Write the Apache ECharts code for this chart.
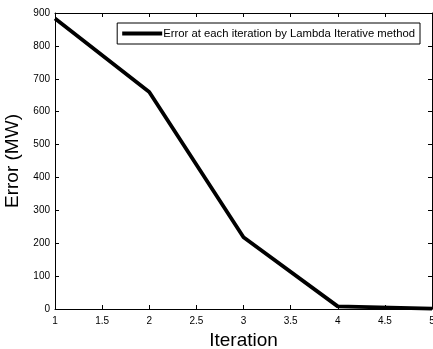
<!DOCTYPE html>
<html><head><meta charset="utf-8">
<script src="https://cdn.jsdelivr.net/npm/echarts@6/dist/echarts.min.js"></script>
<style>html,body{margin:0;padding:0;background:#fff}#c{width:433px;height:349px}</style>
</head><body><div id="c"></div>
<script>
const iterations = [1, 2, 3, 4, 5];
const errors = [883, 660, 218, 8, 1];
const seriesName = 'Error at each iteration by Lambda Iterative method';
const xTicks = [1, 1.5, 2, 2.5, 3, 3.5, 4, 4.5, 5];
const yTicks = [0, 100, 200, 300, 400, 500, 600, 700, 800, 900];

const chart = echarts.init(document.getElementById('c'), null, {renderer: 'canvas'});
const font = 'Liberation Sans, Arial, sans-serif';
const axCommon = {
  axisLine: {show: true, onZero: false, lineStyle: {color: '#000', width: 1}},
  axisTick: {show: true, inside: true, length: 4, lineStyle: {color: '#000'}},
  splitLine: {show: false}
};
chart.setOption({
  animation: false,
  grid: {left: 55, right: 1, top: 13, bottom: 40, containLabel: false, outerBoundsMode: 'none'},
  legend: {
    data: [seriesName], right: 13, top: 23,
    borderColor: '#000', borderWidth: 1, backgroundColor: '#fff',
    padding: [5, 5, 5, 5], itemWidth: 40, itemHeight: 4, itemGap: 0,
    textStyle: {fontFamily: font, fontSize: 11.3, color: '#000', padding: [0,0,0,-4]},
    icon: 'rect'
  },
  xAxis: [
    Object.assign({type: 'value', min: 1, max: 5, interval: 0.5, position: 'bottom',
      name: 'Iteration', nameLocation: 'middle', nameGap: 22,
      nameTextStyle: {fontFamily: font, fontSize: 19, color: '#000'},
      axisLabel: {fontFamily: font, fontSize: 10, color: '#000', margin: 7,
        formatter: v => xTicks.includes(v) ? String(v) : ''}}, axCommon),
    Object.assign({type: 'value', min: 1, max: 5, interval: 0.5, position: 'top',
      axisLabel: {show: false}}, axCommon)
  ],
  yAxis: [
    Object.assign({type: 'value', min: 0, max: 900, interval: 100, position: 'left',
      name: 'Error (MW)', nameLocation: 'middle', nameGap: 28,
      nameTextStyle: {fontFamily: font, fontSize: 19, color: '#000'},
      axisLabel: {fontFamily: font, fontSize: 10, color: '#000', margin: 5,
        formatter: v => yTicks.includes(v) ? String(v) : ''}}, axCommon),
    Object.assign({type: 'value', min: 0, max: 900, interval: 100, position: 'right',
      axisLabel: {show: false}}, axCommon)
  ],
  series: [{
    name: seriesName, type: 'line', xAxisIndex: 0, yAxisIndex: 0,
    data: iterations.map((x, i) => [x, errors[i]]),
    showSymbol: false, symbol: 'none',
    lineStyle: {color: '#000', width: 3.8}, itemStyle: {color: '#000'}
  }]
});
</script></body></html>
